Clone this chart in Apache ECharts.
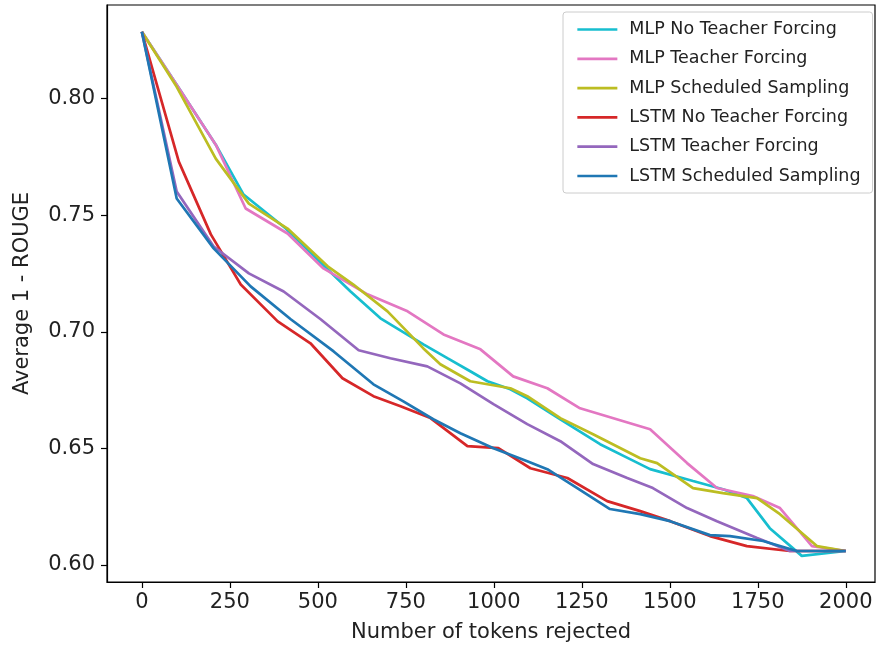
<!DOCTYPE html>
<html>
<head>
<meta charset="utf-8">
<script src="https://cdn.jsdelivr.net/npm/echarts@6/dist/echarts.min.js"></script>
<style>html,body{margin:0;padding:0;background:#fff}#c{width:876px;height:649px}</style>
</head>
<body>
<div id="c"></div>
<script>
const seriesNames = ['MLP No Teacher Forcing','MLP Teacher Forcing','MLP Scheduled Sampling','LSTM No Teacher Forcing','LSTM Teacher Forcing','LSTM Scheduled Sampling'];
const seriesColors = ['#17becf','#e377c2','#bcbd22','#d62728','#9467bd','#1f77b4'];

const mlpNoTF_x = [0,99,210,289,409,499,593,678,800,868,933,982,1047,1095,1189,1302,1387,1444,1566,1651,1719,1784,1875,2000];
const mlpNoTF_y = [0.8287,0.8060,0.7803,0.7589,0.7443,0.7310,0.7173,0.7058,0.6946,0.6887,0.6831,0.6788,0.6754,0.6715,0.6625,0.6518,0.6454,0.6411,0.6360,0.6325,0.6287,0.6158,0.6039,0.6060];

const mlpTF_x = [0,99,210,295,414,516,641,755,857,962,1055,1152,1245,1444,1549,1634,1736,1813,1904,2000];
const mlpTF_y = [0.8287,0.8060,0.7803,0.7529,0.7422,0.7272,0.7161,0.7088,0.6989,0.6925,0.6809,0.6758,0.6672,0.6582,0.6437,0.6330,0.6296,0.6244,0.6081,0.6060];

const mlpSS_x = [0,99,210,304,414,528,601,698,800,848,933,1047,1095,1189,1282,1416,1464,1566,1651,1748,1813,1918,2000];
const mlpSS_y = [0.8287,0.8051,0.7743,0.7550,0.7443,0.7281,0.7203,0.7088,0.6929,0.6861,0.6788,0.6758,0.6724,0.6630,0.6561,0.6458,0.6437,0.6330,0.6308,0.6287,0.6218,0.6081,0.6060];

const lstmNoTF_x = [0,105,196,281,386,479,570,658,735,820,925,1013,1104,1209,1322,1416,1501,1614,1719,1841,2000];
const lstmNoTF_y = [0.8287,0.7730,0.7418,0.7203,0.7045,0.6951,0.6801,0.6724,0.6681,0.6630,0.6510,0.6501,0.6415,0.6373,0.6274,0.6231,0.6188,0.6124,0.6081,0.6060,0.6060];

const lstmTF_x = [0,99,204,304,403,508,616,706,811,905,999,1095,1189,1282,1379,1452,1549,1634,1748,1841,2000];
const lstmTF_y = [0.8287,0.7602,0.7366,0.7251,0.7173,0.7054,0.6921,0.6887,0.6852,0.6779,0.6690,0.6604,0.6531,0.6433,0.6373,0.6330,0.6244,0.6188,0.6116,0.6060,0.6060];

const lstmSS_x = [0,99,204,309,423,545,658,743,828,905,999,1095,1152,1237,1330,1416,1501,1614,1671,1765,1861,2000];
const lstmSS_y = [0.8287,0.7572,0.7358,0.7195,0.7054,0.6916,0.6775,0.6702,0.6625,0.6565,0.6501,0.6445,0.6411,0.6330,0.6240,0.6218,0.6188,0.6128,0.6124,0.6103,0.6060,0.6060];

const xTicks = [0,250,500,750,1000,1250,1500,1750,2000];
const yTicks = [0.60,0.65,0.70,0.75,0.80];

const allX = [mlpNoTF_x, mlpTF_x, mlpSS_x, lstmNoTF_x, lstmTF_x, lstmSS_x];
const allY = [mlpNoTF_y, mlpTF_y, mlpSS_y, lstmNoTF_y, lstmTF_y, lstmSS_y];

const FONT = 'DejaVu Sans';
const chart = echarts.init(document.getElementById('c'), null, {renderer:'canvas'});

const series = seriesNames.map((name, i) => ({
  name: name,
  type: 'line',
  data: allX[i].map((x, j) => [x, allY[i][j]]),
  symbol: 'none',
  showSymbol: false,
  lineStyle: {color: seriesColors[i], width: 2.7},
  itemStyle: {color: seriesColors[i]},
  z: 2 + i
}));

chart.setOption({
  animation: false,
  backgroundColor: '#fff',
  grid: {left: 107, right: 1, top: 5, bottom: 67, show: true, borderColor: '#000', borderWidth: 1.2, backgroundColor: 'transparent'},
  legend: {
    orient: 'vertical',
    left: 563, top: 12,
    padding: [8.5, 12, 8, 13],
    itemWidth: 40, itemHeight: 18, itemGap: 11.3,
    itemStyle: {opacity: 0},
    lineStyle: {width: 2.7},
    backgroundColor: 'rgba(255,255,255,0.85)',
    borderColor: '#cccccc', borderWidth: 1, borderRadius: 3,
    textStyle: {fontFamily: FONT, fontSize: 17.5, color: '#222', padding: [0,0,0,7]},
    data: seriesNames
  },
  xAxis: {
    type: 'value', min: -99, max: 2083,
    name: 'Number of tokens rejected', nameLocation: 'middle', nameGap: 40,
    nameTextStyle: {fontFamily: FONT, fontSize: 21, color: '#222'},
    axisLine: {show: true, onZero: false, lineStyle: {color: '#000', width: 1.2}},
    axisTick: {show: true, inside: false, length: 6, customValues: xTicks, lineStyle: {color: '#000', width: 1.2}},
    axisLabel: {customValues: xTicks, margin: 10, fontFamily: FONT, fontSize: 21, color: '#222', formatter: v => String(v)},
    splitLine: {show: false}
  },
  yAxis: {
    type: 'value', min: 0.5927, max: 0.8402,
    name: 'Average 1 - ROUGE', nameLocation: 'middle', nameGap: 74, nameRotate: 90,
    nameTextStyle: {fontFamily: FONT, fontSize: 21, color: '#222'},
    axisLine: {show: true, onZero: false, lineStyle: {color: '#000', width: 1.2}},
    axisTick: {show: true, inside: false, length: 6, customValues: yTicks, lineStyle: {color: '#000', width: 1.2}},
    axisLabel: {customValues: yTicks, margin: 12, fontFamily: FONT, fontSize: 21, color: '#222', formatter: v => v.toFixed(2)},
    splitLine: {show: false}
  },
  series: series
});
</script>
</body>
</html>
